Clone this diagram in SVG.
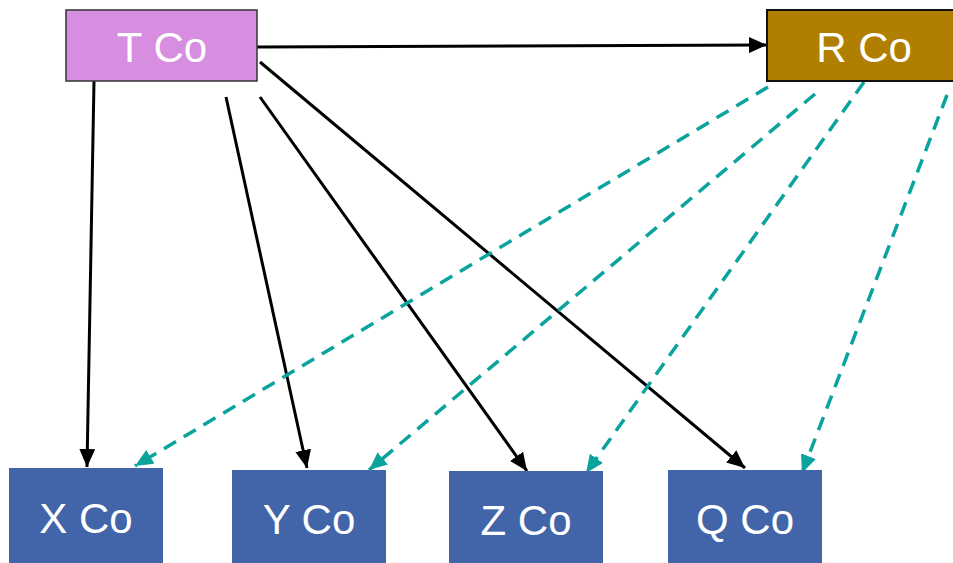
<svg xmlns="http://www.w3.org/2000/svg" width="953" height="563" viewBox="0 0 953 563">
<defs>
<style>
.lbl{font-family:"Liberation Sans",Arial,sans-serif;font-size:42px;fill:#fff;text-anchor:middle}
.blue{fill:#4165A8}
.solid{stroke:#000;stroke-width:3;fill:none}
.dash{stroke:#0AA39E;stroke-width:3.5;fill:none;stroke-dasharray:14 9}
</style>
<marker id="ab" markerUnits="userSpaceOnUse" markerWidth="18" markerHeight="16" viewBox="0 0 18 16" refX="18" refY="8" orient="auto"><path d="M0,0 L18,8 L0,16 z" fill="#000"/></marker>
<marker id="at" markerUnits="userSpaceOnUse" markerWidth="18" markerHeight="16" viewBox="0 0 18 16" refX="18" refY="8" orient="auto"><path d="M0,0 L18,8 L0,16 z" fill="#0AA39E"/></marker>
</defs>
<g id="connectors">
<line class="solid" x1="257" y1="47" x2="767" y2="45" marker-end="url(#ab)"/>
<line class="solid" x1="94" y1="81" x2="87" y2="467" marker-end="url(#ab)"/>
<line class="solid" x1="226" y1="97" x2="307" y2="468" marker-end="url(#ab)"/>
<line class="solid" x1="260" y1="97" x2="527" y2="471" marker-end="url(#ab)"/>
<line class="solid" x1="260" y1="62" x2="745" y2="468" marker-end="url(#ab)"/>
<line class="dash" x1="768" y1="87" x2="135" y2="466" marker-end="url(#at)"/>
<line class="dash" x1="815" y1="94" x2="369" y2="470" marker-end="url(#at)"/>
<line class="dash" x1="864" y1="82" x2="586" y2="473" marker-end="url(#at)"/>
<line class="dash" x1="947" y1="95" x2="802" y2="473" marker-end="url(#at)"/>
</g>
<g id="tco">
<rect x="66" y="10" width="191" height="71" fill="#D78EE0" stroke="#333" stroke-width="1.5"/>
<text class="lbl" x="162" y="62">T Co</text>
</g>
<g id="rco">
<rect x="767" y="10" width="194" height="71" fill="#B07F00" stroke="#111" stroke-width="2"/>
<text class="lbl" x="864" y="62">R Co</text>
</g>
<g id="xco">
<rect class="blue" x="9" y="468" width="154" height="100"/>
<text class="lbl" x="86" y="533">X Co</text>
</g>
<g id="yco">
<rect class="blue" x="232" y="470" width="154" height="100"/>
<text class="lbl" x="309" y="534">Y Co</text>
</g>
<g id="zco">
<rect class="blue" x="449" y="471" width="154" height="100"/>
<text class="lbl" x="526" y="535">Z Co</text>
</g>
<g id="qco">
<rect class="blue" x="668" y="470" width="154" height="100"/>
<text class="lbl" x="745" y="534">Q Co</text>
</g>
</svg>
